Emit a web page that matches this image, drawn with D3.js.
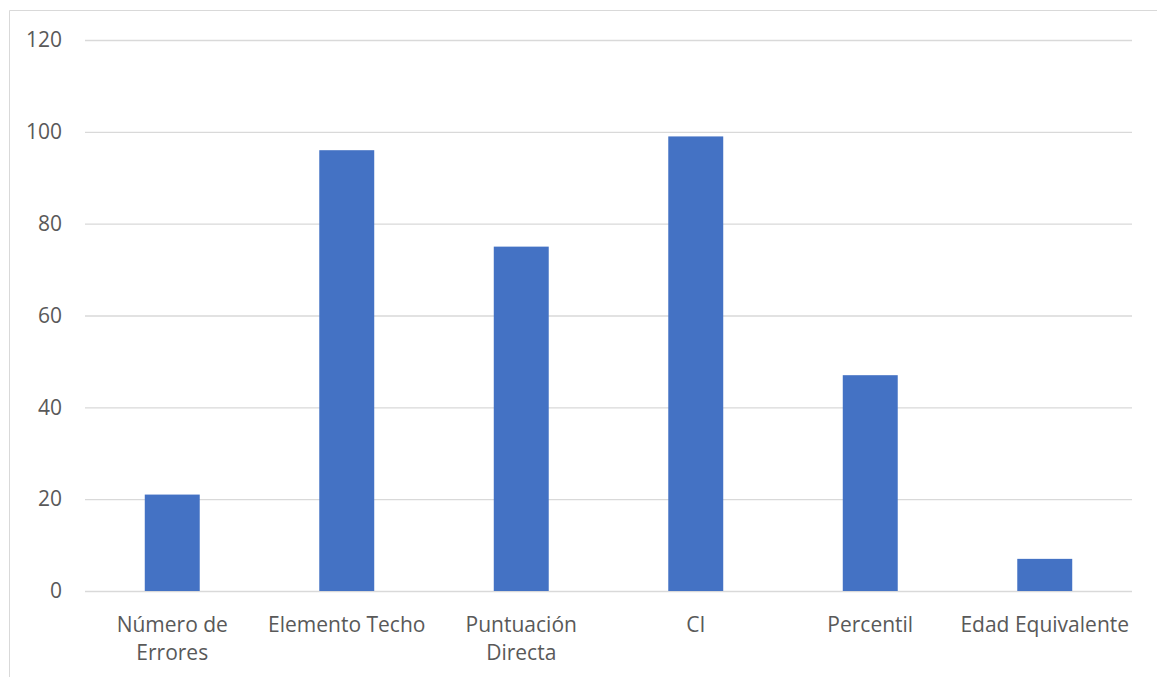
<!DOCTYPE html>
<html><head><meta charset="utf-8">
<script src="https://cdn.jsdelivr.net/npm/d3@7"></script>
<style>body{margin:0;background:#fff;}svg{display:block;}</style>
</head><body>
<svg id="c" width="1157" height="677"></svg>
<script>
const categories = ["Número de\nErrores", "Elemento Techo", "Puntuación\nDirecta", "CI", "Percentil", "Edad Equivalente"];
const values = [21, 96, 75, 99, 47, 7];
const yTicks = [0, 20, 40, 60, 80, 100, 120];

const svg = d3.select("#c");
const font = "'Open Sans', 'Noto Sans', sans-serif";
const fs = "21px";
const m = {left: 85, right: 1132, top: 40, bottom: 591};

svg.append("path").attr("d", "M9.5,677 V10.5 H1157").attr("fill", "none").attr("stroke", "#d9d9d9").attr("stroke-width", 1);

const x = d3.scaleBand().domain(categories).range([m.left, m.right]).paddingInner(0.685).paddingOuter(0.3425);
const y = d3.scaleLinear().domain([0, 120]).range([m.bottom, m.top]);

const yAxis = svg.append("g").attr("transform", `translate(${m.left},0)`)
  .call(d3.axisLeft(y).tickValues(yTicks).tickSize(-(m.right - m.left)).tickPadding(23));
yAxis.select(".domain").remove();
yAxis.selectAll(".tick line").attr("stroke", "#d9d9d9").attr("stroke-width", 1.3);
yAxis.selectAll(".tick text").attr("fill", "#595959").style("font-family", font).style("font-size", fs);

svg.append("g").selectAll("rect").data(values).join("rect")
  .attr("x", (d, i) => x(categories[i]))
  .attr("width", x.bandwidth())
  .attr("y", d => y(d))
  .attr("height", d => y(0) - y(d))
  .attr("fill", "#4472c4");

const xl = svg.append("g").selectAll("text").data(categories).join("text")
  .attr("x", d => x(d) + x.bandwidth() / 2)
  .attr("y", 632)
  .attr("text-anchor", "middle")
  .attr("fill", "#595959")
  .style("font-family", font).style("font-size", fs);
xl.each(function(d) {
  const t = d3.select(this);
  d.split("\n").forEach((line, k) => {
    t.append("tspan").attr("x", x(d) + x.bandwidth() / 2).attr("dy", k === 0 ? 0 : 28).text(line);
  });
});
</script>
</body></html>
